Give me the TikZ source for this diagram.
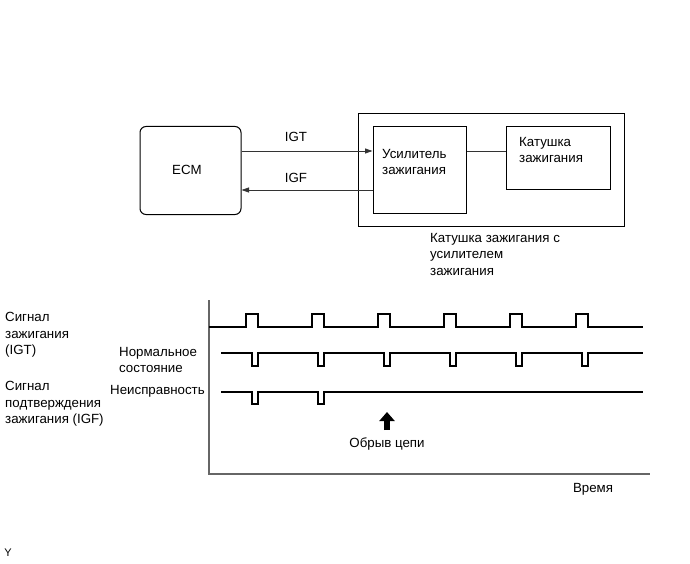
\documentclass[tikz,border=0pt]{standalone}
\usepackage{fontspec}
\setmainfont{Liberation Sans}
\usetikzlibrary{arrows.meta}
\begin{document}
\begin{tikzpicture}[x=1pt,y=-1pt,
  box/.style={draw=black, line width=1pt, inner sep=0pt},
  lbl/.style={inner sep=0pt, font=\fontsize{13.3}{16.5}\selectfont, align=left},
  conn/.style={draw=black!80, line width=0.8pt},
  arr/.style={conn, -{Triangle[length=7.5pt,width=5pt]}},
  wave/.style={draw=black, line width=1.6pt, line join=miter},
  axis/.style={draw=black!60, line width=1.3pt}]
\useasboundingbox (0,0) rectangle (690,564);
% upper block diagram
\node[box, rounded corners=6pt, minimum width=101pt, minimum height=88pt] (ecm) at (190.5,170.5) {};
\node[lbl] (ecmt) at (187,170) {ECM};
\node[box, minimum width=266pt, minimum height=112pt] (outer) at (491,170) {};
\node[box, minimum width=93pt, minimum height=86pt] (amp) at (419.5,170) {};
\node[box, minimum width=104pt, minimum height=62pt] (coil) at (558,158) {};
\node[lbl, anchor=west] (ampt) at (382,162) {Усилитель\\зажигания};
\node[lbl, anchor=west] (coilt) at (519,150) {Катушка\\зажигания};
\node[lbl, anchor=west] (cap) at (430,254) {Катушка зажигания с\\усилителем\\зажигания};
\coordinate (igty) at (0,151);
\coordinate (igfy) at (0,190);
\draw[arr] (ecm.east |- igty) -- (amp.west |- igty);
\draw[arr] (amp.west |- igfy) -- (ecm.east |- igfy);
\draw[conn] (amp.east |- igty) -- (coil.west |- igty);
\node[lbl] (igt) at (296,137) {IGT};
\node[lbl] (igf) at (296,178) {IGF};
% timing chart
\coordinate (o) at (209,474);
\coordinate (top) at (209,300);
\coordinate (xend) at (650,474);
\draw[axis] (top) -- (o) -- (xend);
\node[lbl] (time) at (593,489) {Время};
\node[lbl, anchor=west] (s1) at (5,335) {Сигнал\\зажигания\\(IGT)};
\node[lbl, anchor=west] (s2) at (5,404) {Сигнал\\подтверждения\\зажигания (IGF)};
\node[lbl, anchor=west] (norm) at (119,360) {Нормальное\\состояние};
\node[lbl, anchor=west] (fault) at (110,391) {Неисправность};
% IGT waveform
\draw[wave] (209,327)
  \foreach \p in {246,312,378,444,510,576} { -- (\p,327) -- (\p,314) -- (\p+12,314) -- (\p+12,327) }
  -- (643,327);
% IGF normal
\draw[wave] (221,353)
  \foreach \p in {246,312,378,444,510,576} { -- (\p+6,353) -- (\p+6,366) -- (\p+12,366) -- (\p+12,353) }
  -- (643,353);
% IGF fault
\draw[wave] (221,392)
  \foreach \p in {246,312} { -- (\p+6,392) -- (\p+6,404) -- (\p+12,404) -- (\p+12,392) }
  -- (643,392);
% open circuit arrow
\coordinate (abot) at (387,430);
\coordinate (atop) at (387,412);
\draw[line width=6.5pt, -{Triangle[length=9pt,width=15pt]}] (abot) -- (atop);
\node[lbl] (open) at (387,444) {Обрыв цепи};
\node[lbl, font=\fontsize{11}{13}\selectfont] (yy) at (8,553) {Y};
\end{tikzpicture}
\end{document}
